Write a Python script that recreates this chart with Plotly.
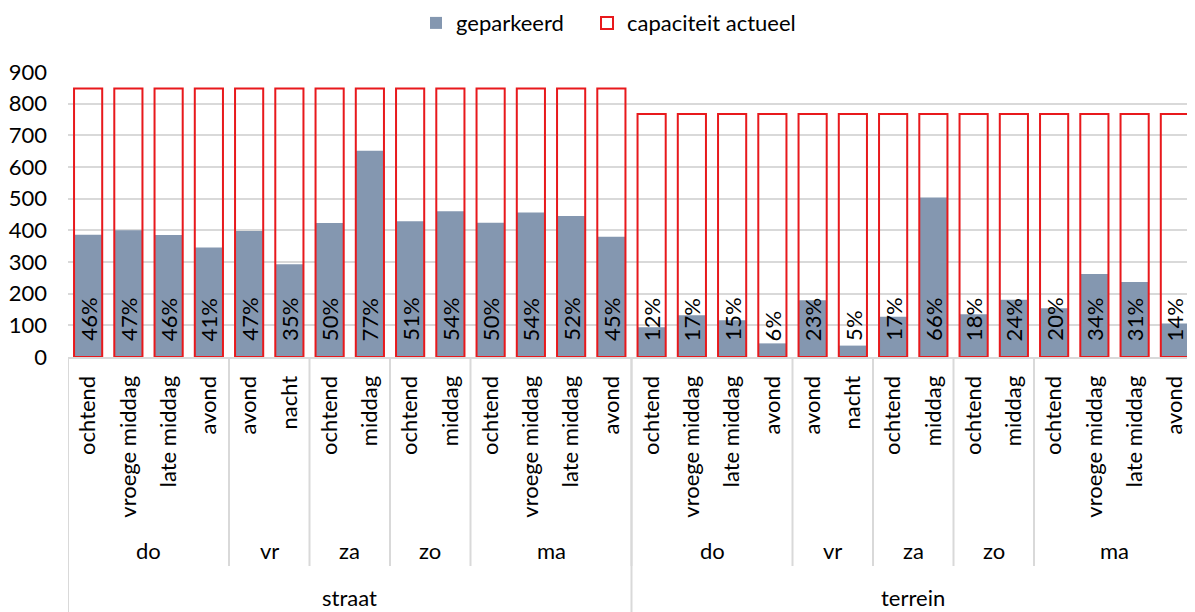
import plotly.graph_objects as go

# categorieën (drie niveaus)
locaties = ["straat"] * 14 + ["terrein"] * 14
dagen = ["do", "do", "do", "do", "vr", "vr", "za", "za", "zo", "zo", "ma", "ma", "ma", "ma"] * 2
dagdelen = ["ochtend", "vroege middag", "late middag", "avond", "avond", "nacht",
            "ochtend", "middag", "ochtend", "middag",
            "ochtend", "vroege middag", "late middag", "avond"] * 2

geparkeerd = [386, 400, 385, 346, 398, 293, 423, 651, 429, 460, 424, 456, 445, 380,
              94, 132, 116, 43, 179, 36, 127, 504, 135, 181, 154, 262, 237, 106]
capaciteit = [848] * 14 + [767] * 14
bezetting = ["46%", "47%", "46%", "41%", "47%", "35%", "50%", "77%", "51%", "54%", "50%", "54%", "52%", "45%",
             "12%", "17%", "15%", "6%", "23%", "5%", "17%", "66%", "18%", "24%", "20%", "34%", "31%", "14%"]

FONT = "Lato"
GRID = "#d9d9d9"
x = list(range(len(dagdelen)))

fig = go.Figure()
fig.add_trace(go.Bar(x=x, y=geparkeerd, name="geparkeerd", marker_color="#8497b0",
                     marker_line_width=0, width=0.7, legendwidth=126))
fig.add_trace(go.Bar(x=x, y=capaciteit, name="capaciteit actueel", width=0.7,
                     marker=dict(color="rgba(255,255,255,0)", line=dict(color="#e8191c", width=2))))


def groepen(labels):
    """aaneengesloten groepen -> (label, start, eind)"""
    res, start = [], 0
    for i in range(1, len(labels) + 1):
        if i == len(labels) or labels[i] != labels[start] or locaties[i] != locaties[start]:
            res.append((labels[start], start, i - 1))
            start = i
    return res


# de pagina heeft 8px body-marge; plotgebied op de pagina van y=72 (900) tot y=357 (0)
def py(pix):
    return (357 - pix) / 285


shapes = []
annotations = []
for i, t in enumerate(bezetting):
    annotations.append(dict(x=i, y=0, xref="x", yref="y", text=t, textangle=-90,
                            showarrow=False, yanchor="bottom", yshift=14,
                            font=dict(size=22, family=FONT, color="#000000")))
for label, a, b in groepen(dagen):
    annotations.append(dict(x=(a + b) / 2, y=py(550), xref="x", yref="paper", text=label,
                            showarrow=False, yanchor="middle",
                            font=dict(size=22, family=FONT, color="#000000")))
    shapes.append(dict(type="line", xref="x", yref="paper", x0=a - 0.5, x1=a - 0.5,
                       y0=0, y1=py(566), line=dict(color=GRID, width=2)))
for label, a, b in groepen(locaties):
    annotations.append(dict(x=(a + b) / 2, y=py(597), xref="x", yref="paper", text=label,
                            showarrow=False, yanchor="middle",
                            font=dict(size=22, family=FONT, color="#000000")))
    shapes.append(dict(type="line", xref="x", yref="paper", x0=a - 0.5, x1=a - 0.5,
                       y0=0, y1=py(620), line=dict(color=GRID, width=2)))

fig.update_layout(
    barmode="overlay",
    width=1187, height=604,
    margin=dict(l=60, r=0, t=64, b=255, autoexpand=False),
    plot_bgcolor="white", paper_bgcolor="white",
    font=dict(family=FONT, size=22, color="#000000"),
    legend=dict(orientation="h", x=0.4796, xanchor="center", y=0.975, yanchor="middle",
                yref="container", font=dict(size=22), itemwidth=30),
    xaxis=dict(tickvals=x, ticktext=dagdelen, tickangle=-90, range=[-0.5, 27.5],
               showgrid=False, ticks="", showline=True, linecolor=GRID, linewidth=2,
               tickfont=dict(size=22), automargin=False, ticklabelstandoff=8),
    yaxis=dict(range=[0, 900], dtick=100, gridcolor=GRID, gridwidth=2, zeroline=False,
               showline=False, ticks="", tickfont=dict(size=22), automargin=False,
               ticklabelstandoff=20),
    shapes=shapes,
    annotations=annotations,
    showlegend=True,
)

fig.write_html("out.html")
